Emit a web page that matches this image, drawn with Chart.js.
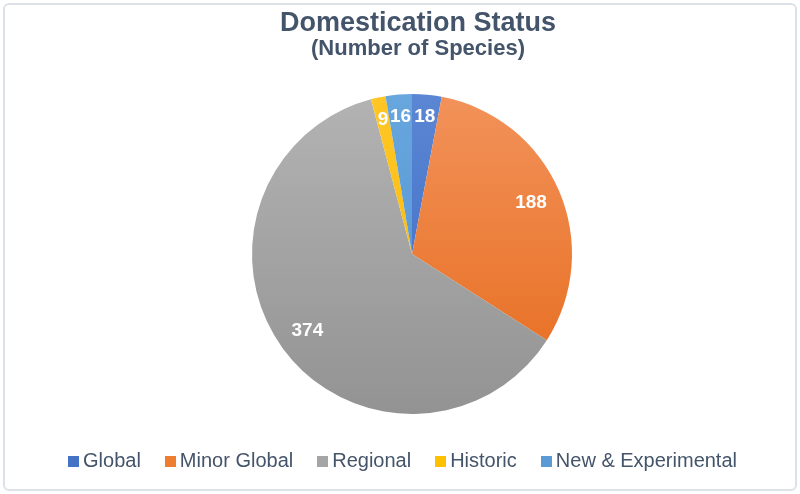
<!DOCTYPE html>
<html>
<head>
<meta charset="utf-8">
<script src="https://cdn.jsdelivr.net/npm/chart.js@4/dist/chart.umd.min.js"></script>
<style>
  html, body { margin: 0; padding: 0; background: #fff; }
  #wrap { position: relative; width: 800px; height: 494px; }
  #frame {
    position: absolute; left: 3px; top: 3px; right: 3px; bottom: 3px;
    border: 2px solid #dde2e8; border-radius: 6px; box-sizing: border-box;
  }
  canvas { position: absolute; left: 0; top: 0; }
</style>
</head>
<body>
<div id="wrap">
  <div id="frame"></div>
  <canvas id="myChart" width="800" height="494"></canvas>
</div>
<script>
// DOMESTICATION STATUS PIE
const categories = ["Global", "Minor Global", "Regional", "Historic", "New & Experimental"];
const species = [18, 188, 374, 9, 16];
const topColors = ["#5a86d3", "#f2925a", "#b3b3b3", "#ffc627", "#68a6de"];
const bottomColors = ["#3b68c5", "#e66a1a", "#939393", "#f6b800", "#4f8fcf"];
const legendColors = ["#4472c4", "#ed7d31", "#a5a5a5", "#ffc000", "#5b9bd5"];

const textColor = "#44546a";
const font = "'Liberation Sans', Arial, Helvetica, sans-serif";
const pieRadius = 160;

function sliceFill(context) {
    const area = context.chart.chartArea;
    if (!area) return legendColors[context.dataIndex];
    const cy = (area.top + area.bottom) / 2;
    const g = context.chart.ctx.createLinearGradient(0, cy - pieRadius, 0, cy + pieRadius);
    g.addColorStop(0, topColors[context.dataIndex]);
    g.addColorStop(1, bottomColors[context.dataIndex]);
    return g;
}

// value labels inside the slices, near the rim
const sliceLabels = {
    id: "sliceLabels",
    afterDatasetsDraw(chart) {
        const ctx = chart.ctx;
        const meta = chart.getDatasetMeta(0);
        ctx.save();
        ctx.fillStyle = "#ffffff";
        ctx.font = "bold 19px " + font;
        ctx.textAlign = "center";
        ctx.textBaseline = "middle";
        meta.data.forEach((arc, i) => {
            const mid = (arc.startAngle + arc.endAngle) / 2;
            const r = arc.outerRadius * (species[i] < 30 ? 0.86 : 0.81);
            ctx.fillText(String(species[i]), arc.x + Math.cos(mid) * r, arc.y + Math.sin(mid) * r);
        });
        ctx.restore();
    }
};

// titles sit a little right of the pie centre, legend a little left;
// legend squares hug their text
const tweaks = {
    id: "tweaks",
    afterLayout(chart) {
        chart.boxes.forEach(b => {
            if (b.options && typeof b.options.text === "string") {
                b.left += 6;
                b.right += 6;
            }
        });
        chart.legend.left -= 9;
        chart.legend.right -= 9;
    },
    afterDraw(chart) {
        const ctx = chart.ctx;
        ctx.save();
        (chart.legend.legendHitBoxes || []).forEach((hb, i) => {
            ctx.fillStyle = legendColors[i];
            ctx.fillRect(Math.round(hb.left) - 1, Math.round(hb.top + hb.height / 2 - 5), 11, 11);
        });
        ctx.restore();
    }
};

const ctx = document.getElementById("myChart").getContext("2d");
new Chart(ctx, {
    type: "pie",
    data: {
        labels: categories,
        datasets: [{
            data: species,
            backgroundColor: sliceFill,
            borderWidth: 0,
            radius: pieRadius
        }]
    },
    options: {
        responsive: false,
        animation: false,
        layout: { padding: { left: 24, right: 0, top: 0, bottom: 13 } },
        plugins: {
            title: {
                display: true,
                text: "Domestication Status",
                color: textColor,
                font: { family: font, size: 27, weight: "bold", lineHeight: 1.0 },
                padding: { top: 10, bottom: 0 }
            },
            subtitle: {
                display: true,
                text: "(Number of Species)",
                color: textColor,
                font: { family: font, size: 22, weight: "bold", lineHeight: 1.0 },
                padding: { top: 1, bottom: 22 }
            },
            legend: {
                position: "bottom",
                labels: {
                    color: textColor,
                    font: { family: font, size: 20 },
                    boxWidth: 4,
                    boxHeight: 11,
                    padding: 25,
                    generateLabels(chart) {
                        return categories.map((c, i) => ({
                            text: c,
                            fillStyle: "rgba(0,0,0,0)",
                            strokeStyle: "rgba(0,0,0,0)",
                            lineWidth: 0,
                            fontColor: textColor,
                            index: i,
                            hidden: false
                        }));
                    }
                }
            },
            tooltip: { enabled: false }
        }
    },
    plugins: [sliceLabels, tweaks]
});
</script>
</body>
</html>
